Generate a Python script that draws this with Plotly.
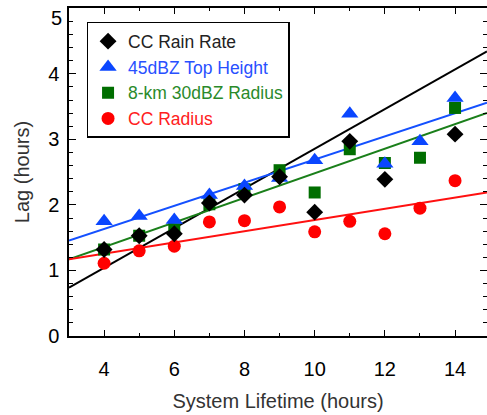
import plotly.graph_objects as go

# ---- data ----
rain_x = [4, 5, 6, 7, 8, 9, 10, 11, 12, 14]
rain_y = [1.32, 1.53, 1.56, 2.03, 2.15, 2.43, 1.89, 2.97, 2.39, 3.08]

top_x = [4, 5, 6, 7, 8, 9, 10, 11, 12, 13, 14]
top_y = [1.75, 1.83, 1.77, 2.15, 2.29, 2.41, 2.68, 3.39, 2.63, 2.97, 3.63]

rad30_x = [4, 5, 6, 7, 8, 9, 10, 11, 12, 13, 14]
rad30_y = [1.32, 1.53, 1.63, 2.01, 2.24, 2.53, 2.19, 2.85, 2.64, 2.72, 3.48]

ccr_x = [4, 5, 6, 7, 8, 9, 10, 11, 12, 13, 14]
ccr_y = [1.11, 1.30, 1.37, 1.74, 1.76, 1.97, 1.59, 1.75, 1.56, 1.95, 2.37]

# fitted lines (intercept, slope)
fit_names = ["CC Rain Rate", "45dBZ Top Height", "8-km 30dBZ Radius", "CC Radius"]
fit_intercept = [-0.168, 0.924, 0.608, 0.913]
fit_slope = [0.3025, 0.1769, 0.1874, 0.0857]

x_range = [3, 14.91]
y_range = [0, 5.005]
y_tickvals = [0, 1, 2, 3, 4, 5]
y_ticktext = ["0", "1", "2", "3", "4", ""]
y_top_label = "5"

marker_colors = ["#000000", "#0a46ff", "#006e00", "#ff0000"]
line_colors = ["#000000", "#1450ff", "#1a7f1a", "#ff1010"]
text_colors = ["#222222", "#2850ff", "#2a8a2a", "#ff2020"]

FONT = "Liberation Sans, Arial, sans-serif"

fig = go.Figure()

# regression lines
for b0, b1, lc in zip(fit_intercept, fit_slope, line_colors):
    xs = x_range
    ys = [b0 + b1 * v for v in xs]
    fig.add_trace(go.Scatter(x=xs, y=ys, mode="lines",
                             line=dict(color=lc, width=2),
                             showlegend=False, hoverinfo="skip"))

series = [
    (ccr_x, ccr_y, "circle", 13, 3),
    (rad30_x, rad30_y, "square", 12, 2),
    (top_x, top_y, "triangle-up", 15, 1),
    (rain_x, rain_y, "diamond", 13, 0),
]
for xs, ys, sym, sz, idx in series:
    fig.add_trace(go.Scatter(
        x=xs, y=ys, mode="markers",
        marker=dict(symbol=sym, size=sz, color=marker_colors[idx], line=dict(width=0)),
        name='<span style="color:%s">%s</span>' % (text_colors[idx], fit_names[idx]),
        legendrank=idx + 1,
    ))

axis_common = dict(
    showline=True, linecolor="black", linewidth=1.5, mirror="ticks",
    ticks="inside", tickcolor="black", tickwidth=1.2,
    showgrid=False, zeroline=False, ticklabeloverflow="allow",
    tickfont=dict(family=FONT, size=20, color="black"),
)

fig.update_xaxes(
    range=x_range, tickmode="linear", tick0=0, dtick=2, ticklen=6,
    minor=dict(tickmode="linear", tick0=0, dtick=1, ticklen=3, ticks="inside",
               tickcolor="black", tickwidth=1.2),
    ticklabelstandoff=14,
    title=dict(text="System Lifetime (hours)", standoff=15,
               font=dict(family=FONT, size=20, color="#333333")),
    **axis_common)
fig.update_yaxes(
    range=y_range, tickmode="array", tickvals=y_tickvals, ticktext=y_ticktext, ticklen=7,
    minor=dict(tickmode="linear", tick0=0, dtick=0.2, ticklen=4, ticks="inside",
               tickcolor="black", tickwidth=1.2),
    ticklabelstandoff=4,
    title=dict(text="Lag (hours)", standoff=13,
               font=dict(family=FONT, size=20, color="#333333")),
    **axis_common)

# top y label placed just below the frame so it is not clipped
fig.add_annotation(text=y_top_label, xref="paper", x=0, xanchor="right", xshift=-5,
                   yref="y", y=y_tickvals[-1], yanchor="middle", yshift=-10,
                   showarrow=False, font=dict(family=FONT, size=20, color="black"))

fig.update_layout(
    width=487, height=415,
    margin=dict(l=69, r=0, t=8, b=79, autoexpand=False),
    plot_bgcolor="white", paper_bgcolor="white",
    legend=dict(x=0.042, y=0.958, xanchor="left", yanchor="top",
                bordercolor="black", borderwidth=1.5, bgcolor="white",
                font=dict(family=FONT, size=17.5),
                traceorder="normal", itemwidth=30),
    showlegend=True,
)

fig.write_html("out.html",
               config={"displayModeBar": False},
               post_script="document.body.style.margin='0';document.body.style.padding='0';"
                           "document.body.style.overflow='hidden';")
